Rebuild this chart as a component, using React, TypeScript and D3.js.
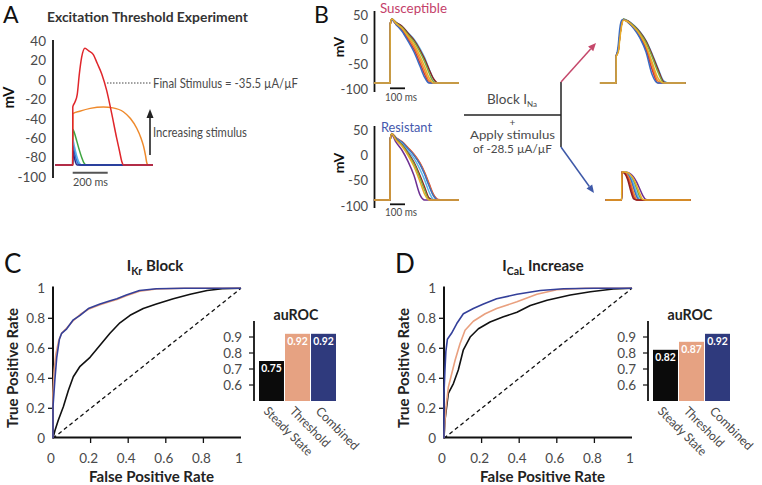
import React from 'react';
import * as d3 from 'd3';

type Pt = [number, number];

const FONT = 'Lato, "Open Sans", sans-serif';
const INK = '#4a4a4a';

// ---------- Panel A: excitation threshold traces, [ms after stimulus, mV]
const aTicks = [40, 20, 0, -20, -40, -60, -80, -100];
const aNavy: Pt[] = [[-100, -88], [0, -88], [0.5, -73], [8, -79], [16, -85], [26, -88], [459, -88]];
const aBlue: Pt[] = [[-100, -88], [0, -88], [0.5, -68], [10, -75], [20, -82], [32, -87], [42, -88], [459, -88]];
const aLight: Pt[] = [[-100, -88], [0, -88], [0.5, -62], [10, -69], [22, -78], [35, -85], [50, -88], [459, -88]];
const aGreen: Pt[] = [[-100, -88], [0, -88], [0.5, -51], [10, -55], [23, -63], [37, -72], [51, -80], [65, -86], [80, -88], [459, -88]];
const aOrange: Pt[] = [[-100, -88], [0, -88], [0.5, -35], [40, -32.5], [100, -29.5], [175, -28], [230, -29], [289, -33], [330, -40], [366, -50], [390, -60], [404, -68], [416, -78], [424, -86], [432, -88], [459, -88]];
const aRed: Pt[] = [[-100, -88], [0, -88], [0.5, -28], [13, -23], [26, -15], [38, 6], [51, 23], [70, 32.5], [90, 30], [118, 26], [140, 17], [166, 6], [194, -11], [223, -35], [251, -60], [268, -74], [280, -84], [292, -88], [459, -88]];

// ---------- Panel B: population traces (shared time grids, mV values)
const bTicks = [50, 0, -50, -100];
const leftT = [-107, 0, 1, 12, 40, 80, 120, 160, 200, 230, 260, 290, 320, 350, 460];
const susBlue = [-88, -88, 30, 40, 31, 17, -3, -25, -54, -76, -88, -88, -88, -88, -88];
const susRed = [-88, -88, 30, 41, 31, 19, 0, -20, -48, -70, -87, -88, -88, -88, -88];
const susOrange = [-88, -88, 30, 41, 32, 21, 4, -14, -40, -62, -83, -88, -88, -88, -88];
const susGreen = [-88, -88, 30, 42, 34, 25, 10, -4, -25, -44, -67, -85, -88, -88, -88];
const susLight = [-88, -88, 30, 42, 35, 27, 14, 1, -18, -36, -59, -80, -88, -88, -88];
const susDark = [-88, -88, 30, 42, 35, 27, 13, -1, -21, -39, -60, -79, -88, -88, -88];
const susGold = [-88, -88, 30, 42, 33, 23, 7, -9, -33, -54, -77, -88, -88, -88, -88];

const resPurple = [-88, -88, 30, 40, 26, 10, -12, -40, -78, -88, -88, -88, -88, -88, -88];
const resGreen = [-88, -88, 30, 42, 31, 20, 3, -17, -45, -68, -87, -88, -88, -88, -88];
const resDark = [-88, -88, 30, 42, 32, 21, 5, -14, -40, -62, -84, -88, -88, -88, -88];
const resLight = [-88, -88, 30, 42, 33, 23, 9, -6, -28, -48, -72, -87, -88, -88, -88];
const resBlue = [-88, -88, 30, 42, 34, 26, 13, 0, -18, -37, -60, -80, -88, -88, -88];
const resRed = [-88, -88, 30, 43, 35, 27, 15, 2, -15, -33, -55, -77, -87, -88, -88];
const resOrange = [-88, -88, 30, 43, 34, 26, 14, 1, -17, -35, -58, -79, -88, -88, -88];
const resGold = [-88, -88, 30, 42, 30, 18, 0, -22, -52, -76, -88, -88, -88, -88, -88];

const susBlockT = [-107, 0, 1, 8, 16, 25, 40, 50, 80, 120, 160, 200, 240, 280, 320, 360, 465];
const sbBlue = [-88, -88, -34, -26, -8, 22, 40, 41, 35, 22, 3, -25, -70, -88, -88, -88, -88];
const sbRed = [-88, -88, -34, -28, -20, 8, 36, 41, 35, 23, 5, -20, -60, -88, -88, -88, -88];
const sbOrange = [-88, -88, -34, -28, -20, 6, 35, 41, 36, 24, 8, -15, -50, -84, -88, -88, -88];
const sbGreen = [-88, -88, -34, -28, -20, 6, 36, 42, 37, 27, 13, -6, -34, -66, -88, -88, -88];
const sbLight = [-88, -88, -34, -28, -20, 8, 37, 42, 38, 29, 16, -2, -28, -58, -84, -88, -88];
const sbDark = [-88, -88, -34, -28, -20, 6, 35, 41, 38, 28, 15, -3, -30, -60, -86, -88, -88];
const sbGold = [-88, -88, -34, -30, -24, 0, 32, 40, 36, 25, 10, -12, -45, -78, -88, -88, -88];

const resBlockT = [-107, 0, 1, 20, 40, 60, 80, 100, 120, 140, 160, 180, 460];
const rbDark = [-88, -88, -33, -36, -48, -70, -86, -88, -88, -88, -88, -88, -88];
const rbRed = [-88, -88, -33, -35, -44, -62, -82, -88, -88, -88, -88, -88, -88];
const rbOrange = [-88, -88, -33, -34, -40, -54, -74, -87, -88, -88, -88, -88, -88];
const rbBlue = [-88, -88, -33, -34, -38, -48, -65, -82, -88, -88, -88, -88, -88];
const rbLight = [-88, -88, -33, -33, -36, -44, -57, -75, -87, -88, -88, -88, -88];
const rbGreen = [-88, -88, -33, -33, -35, -41, -51, -66, -82, -88, -88, -88, -88];
const rbPurple = [-88, -88, -33, -33, -34, -37, -43, -53, -66, -79, -87, -88, -88];
const rbGold = [-88, -88, -33, -33, -34, -39, -47, -60, -75, -87, -88, -88, -88];

const COL = {
  blue: '#3a6cc3', light: '#5bb8e8', green: '#7aab44', dark: '#8c1f22',
  red: '#d53a2b', orange: '#ef8a2d', gold: '#e8ac2a', purple: '#6c2f92',
};

// ---------- Panels C/D: ROC curves [FPR, TPR] and auROC bars
const rocTicks = [0, 0.2, 0.4, 0.6, 0.8, 1];
const rocTickLabels = ['0', '0.2', '0.4', '0.6', '0.8', '1'];
const barTicks = [0.6, 0.7, 0.8, 0.9];
const barCats = ['Steady State', 'Threshold', 'Combined'];
const barCatLens = [63, 51, 55];
const barColors = ['#0b0b0b', '#e6a282', '#2f3a7d'];
const cAuroc = [0.75, 0.92, 0.92];
const dAuroc = [0.82, 0.87, 0.92];

const cSteady: Pt[] = [[0, 0], [0.01, 0.05], [0.028, 0.12], [0.055, 0.21], [0.082, 0.32], [0.108, 0.41], [0.144, 0.48], [0.197, 0.54], [0.25, 0.62], [0.303, 0.7], [0.356, 0.77], [0.41, 0.82], [0.48, 0.865], [0.55, 0.895], [0.64, 0.93], [0.73, 0.96], [0.82, 0.985], [0.9, 0.997], [1, 1]];
const cThreshold: Pt[] = [[0, 0], [0, 0.3], [0.006, 0.45], [0.015, 0.56], [0.03, 0.65], [0.046, 0.7], [0.073, 0.735], [0.108, 0.785], [0.144, 0.825], [0.188, 0.86], [0.25, 0.89], [0.3, 0.91], [0.34, 0.925], [0.39, 0.95], [0.46, 0.98], [0.55, 0.995], [0.7, 1], [1, 1]];
const cCombined: Pt[] = [[0, 0], [0, 0.21], [0.01, 0.39], [0.02, 0.54], [0.034, 0.66], [0.046, 0.7], [0.073, 0.73], [0.108, 0.79], [0.144, 0.82], [0.188, 0.865], [0.25, 0.895], [0.3, 0.915], [0.34, 0.93], [0.39, 0.955], [0.46, 0.985], [0.55, 0.997], [0.7, 1], [1, 1]];

const dSteady: Pt[] = [[0, 0], [0.005, 0.12], [0.023, 0.3], [0.05, 0.365], [0.076, 0.455], [0.103, 0.59], [0.139, 0.675], [0.183, 0.73], [0.245, 0.775], [0.316, 0.81], [0.388, 0.84], [0.459, 0.885], [0.548, 0.92], [0.672, 0.955], [0.779, 0.977], [0.9, 0.995], [1, 1]];
const dThreshold: Pt[] = [[0, 0], [0.004, 0.1], [0.011, 0.21], [0.023, 0.34], [0.041, 0.43], [0.059, 0.52], [0.085, 0.63], [0.112, 0.72], [0.156, 0.78], [0.219, 0.83], [0.28, 0.865], [0.388, 0.91], [0.494, 0.96], [0.6, 0.99], [0.75, 1], [1, 1]];
const dCombined: Pt[] = [[0, 0], [0, 0.3], [0.005, 0.455], [0.01, 0.58], [0.018, 0.66], [0.04, 0.7], [0.068, 0.765], [0.103, 0.83], [0.156, 0.865], [0.21, 0.895], [0.28, 0.93], [0.388, 0.96], [0.512, 0.985], [0.636, 0.997], [0.8, 1], [1, 1]];

const zip = (ts: number[], vs: number[]): Pt[] => ts.map((t, i) => [t, vs[i]]);

function Txt({ x = 0, y = 0, size = 13, weight = 400, anchor = 'start', fill = INK, len, transform, children }: any) {
  return (
    <text x={x} y={y} transform={transform} fontSize={size} fontWeight={weight} textAnchor={anchor} fill={fill}
      textLength={len} lengthAdjust={len ? 'spacingAndGlyphs' : undefined}>{children}</text>
  );
}

function head(x1: number, y1: number, x2: number, y2: number, len = 8, half = 3.5) {
  const a = Math.atan2(y2 - y1, x2 - x1);
  const bx = x2 - len * Math.cos(a), by = y2 - len * Math.sin(a);
  const px = -Math.sin(a) * half, py = Math.cos(a) * half;
  return { pts: `${x2},${y2} ${bx + px},${by + py} ${bx - px},${by - py}`, bx, by };
}

function Arrow({ x1, y1, x2, y2, color, len = 8, half = 3.5, w = 1.5 }: any) {
  const h = head(x1, y1, x2, y2, len, half);
  return (
    <g>
      <line x1={x1} y1={y1} x2={h.bx} y2={h.by} stroke={color} strokeWidth={w} />
      <polygon points={h.pts} fill={color} />
    </g>
  );
}

function Traces({ x, y, series }: { x: any; y: any; series: [Pt[], string][] }) {
  const line = d3.line<Pt>().x(d => x(d[0])).y(d => y(d[1])).curve(d3.curveMonotoneX);
  return (
    <g fill="none" strokeWidth={1.5} strokeLinejoin="round">
      {series.map(([pts, c], i) => <path key={i} d={line(pts) || ''} stroke={c} />)}
    </g>
  );
}

function PanelA() {
  const x = d3.scaleLinear().domain([0, 200]).range([72.7, 107.7]);
  const y = d3.scaleLinear().domain([-100, 40]).range([176.7, 41]);
  return (
    <g>
      <Txt x={3} y={23} size={23} fill="#111">A</Txt>
      <Txt x={147.5} y={22} size={14} weight={700} anchor="middle" fill="#333" len={201}>Excitation Threshold Experiment</Txt>
      <line x1={53} x2={53} y1={40} y2={178} stroke="#111" strokeWidth={1.8} />
      {aTicks.map(v => <Txt key={v} x={46} y={y(v) + 5} size={13.5} anchor="end">{v}</Txt>)}
      <Txt transform="translate(14,97.5) rotate(-90)" size={15} weight={700} anchor="middle" fill="#111">mV</Txt>
      <Traces x={x} y={y} series={[[aOrange, '#ef8a2c'], [aGreen, '#3ea541'], [aLight, '#57b4ea'], [aBlue, '#2f78d6'], [aNavy, '#262a8a'], [aRed, '#e0262b']]} />
      <line x1={x(0)} x2={x(200)} y1={172.7} y2={172.7} stroke="#555" strokeWidth={2} />
      <Txt x={73} y={186} size={11} len={35}>200 ms</Txt>
      <line x1={107} x2={152} y1={83} y2={83} stroke="#444" strokeWidth={1} strokeDasharray="1.5 1.5" />
      <Txt x={153} y={87.5} size={12.5} len={145}>Final Stimulus = -35.5 µA/µF</Txt>
      <Arrow x1={150} y1={155} x2={150} y2={109} color="#222" len={9} half={3.5} w={1.6} />
      <Txt x={153} y={136.5} size={12.5} len={94}>Increasing stimulus</Txt>
    </g>
  );
}

function PanelB() {
  const yTop = d3.scaleLinear().domain([-100, 50]).range([89, 15]);
  const yBot = d3.scaleLinear().domain([-100, 50]).range([206, 130]);
  const xLeft = d3.scaleLinear().domain([0, 100]).range([390, 405]);
  const xRTop = d3.scaleLinear().domain([0, 100]).range([616, 631]);
  const xRBot = d3.scaleLinear().domain([0, 100]).range([621.7, 636.7]);
  return (
    <g>
      <Txt x={314} y={23} size={23} fill="#111">B</Txt>
      <line x1={374.5} x2={374.5} y1={11} y2={92} stroke="#111" strokeWidth={1.8} />
      <line x1={374.5} x2={374.5} y1={126} y2={208} stroke="#111" strokeWidth={1.8} />
      {bTicks.map(v => <Txt key={'t' + v} x={368} y={yTop(v) + 4.5} size={13} anchor="end">{v}</Txt>)}
      {bTicks.map(v => <Txt key={'b' + v} x={368} y={yBot(v) + 4.5} size={13} anchor="end">{v}</Txt>)}
      <Txt transform="translate(344,47) rotate(-90)" size={14} weight={700} anchor="middle" fill="#111">mV</Txt>
      <Txt transform="translate(344,163) rotate(-90)" size={14} weight={700} anchor="middle" fill="#111">mV</Txt>
      <Txt x={380} y={12.5} size={13} fill="#c4416a" len={67}>Susceptible</Txt>
      <Txt x={381} y={131.5} size={13} fill="#4558ad" len={51}>Resistant</Txt>

      <Traces x={xLeft} y={yTop} series={[
        [zip(leftT, susLight), COL.light], [zip(leftT, susDark), COL.dark], [zip(leftT, susGreen), COL.green],
        [zip(leftT, susOrange), COL.orange], [zip(leftT, susRed), COL.red], [zip(leftT, susBlue), COL.blue],
        [zip(leftT, susGold), COL.gold]]} />
      <Traces x={xLeft} y={yBot} series={[
        [zip(leftT, resRed), COL.red], [zip(leftT, resOrange), COL.orange], [zip(leftT, resBlue), COL.blue],
        [zip(leftT, resLight), COL.light], [zip(leftT, resDark), COL.dark], [zip(leftT, resGreen), COL.green],
        [zip(leftT, resPurple), COL.purple], [zip(leftT, resGold), COL.gold]]} />
      <Traces x={xRTop} y={yTop} series={[
        [zip(susBlockT, sbLight), COL.light], [zip(susBlockT, sbDark), COL.dark], [zip(susBlockT, sbGreen), COL.green],
        [zip(susBlockT, sbOrange), COL.orange], [zip(susBlockT, sbRed), COL.red], [zip(susBlockT, sbBlue), COL.blue],
        [zip(susBlockT, sbGold), COL.gold]]} />
      <Traces x={xRBot} y={yBot} series={[
        [zip(resBlockT, rbPurple), COL.purple], [zip(resBlockT, rbGreen), COL.green], [zip(resBlockT, rbLight), COL.light],
        [zip(resBlockT, rbBlue), COL.blue], [zip(resBlockT, rbOrange), COL.orange], [zip(resBlockT, rbRed), COL.red],
        [zip(resBlockT, rbDark), COL.dark], [zip(resBlockT, rbGold), COL.gold]]} />

      <line x1={xLeft(0)} x2={xLeft(100)} y1={88.3} y2={88.3} stroke="#111" strokeWidth={1.8} />
      <Txt x={385} y={100.5} size={10.5} len={32}>100 ms</Txt>
      <line x1={xLeft(0)} x2={xLeft(100)} y1={204.3} y2={204.3} stroke="#111" strokeWidth={1.8} />
      <Txt x={385} y={216} size={10.5} len={32}>100 ms</Txt>

      <text x={512} y={103.5} fontSize={13.5} textAnchor="middle" fill={INK}>
        Block I<tspan fontSize={8} dy={3}>Na</tspan>
      </text>
      <line x1={464} x2={561} y1={115} y2={115} stroke="#222" strokeWidth={1.5} />
      <line x1={561} x2={561} y1={82} y2={147} stroke="#222" strokeWidth={1.5} />
      <Txt x={512.5} y={125.5} size={10} anchor="middle">+</Txt>
      <Txt x={512.5} y={139} size={11} anchor="middle" len={85}>Apply stimulus</Txt>
      <Txt x={512.5} y={152.5} size={11} anchor="middle" len={79}>of -28.5 µA/µF</Txt>
      <Arrow x1={561} y1={82} x2={596} y2={43} color="#c5486b" />
      <Arrow x1={561} y1={147} x2={594} y2={193} color="#3e59a8" />
    </g>
  );
}

function RocPanel({ ox, bx, letter, sub, rest, titleX, steady, threshold, combined, auroc }: any) {
  const x = d3.scaleLinear().domain([0, 1]).range([ox + 53, ox + 241]);
  const y = d3.scaleLinear().domain([0, 1]).range([438.3, 288.3]);
  const line = d3.line<Pt>().x(d => x(d[0])).y(d => y(d[1]));
  const by = d3.scaleLinear().domain([0.5, 1]).range([401, 321]);
  const band = d3.scaleBand<string>().domain(barCats).range([bx + 5, bx + 82]).paddingInner(0.04);
  return (
    <g>
      <Txt x={ox + 4} y={273} size={26} fill="#111">{letter}</Txt>
      <text x={titleX} y={271} fontSize={15} fontWeight={700} textAnchor="middle" fill="#222">
        I<tspan fontSize={10.5} dy={4}>{sub}</tspan><tspan dy={-4}>{' ' + rest}</tspan>
      </text>
      {/* ROC axes */}
      <line x1={x(0)} x2={x(0)} y1={286.5} y2={438} stroke="#111" strokeWidth={2} />
      <line x1={x(0) - 1} x2={x(1)} y1={437.5} y2={437.5} stroke="#111" strokeWidth={2} />
      {rocTicks.slice(1, 5).map(v => <line key={'yt' + v} x1={x(0) - 5} x2={x(0)} y1={y(v)} y2={y(v)} stroke="#111" strokeWidth={1.3} />)}
      {rocTicks.slice(1, 5).map(v => <line key={'xt' + v} x1={x(v)} x2={x(v)} y1={437.5} y2={443} stroke="#111" strokeWidth={1.3} />)}
      {rocTicks.map((v, i) => <Txt key={'yl' + v} x={x(0) - 8} y={y(v) + 5} size={13.5} anchor="end">{rocTickLabels[i]}</Txt>)}
      {rocTicks.map((v, i) => <Txt key={'xl' + v} x={x(v) - 2} y={463} size={13.5} anchor="middle">{rocTickLabels[i]}</Txt>)}
      <Txt transform={`translate(${ox + 18},368) rotate(-90)`} size={15} weight={700} anchor="middle" fill="#222" len={120}>True Positive Rate</Txt>
      <Txt x={ox + 151.5} y={481.5} size={15} weight={700} anchor="middle" fill="#222" len={125}>False Positive Rate</Txt>
      <line x1={x(0)} y1={y(0)} x2={x(1)} y2={y(1)} stroke="#111" strokeWidth={1.3} strokeDasharray="4 3" />
      <g fill="none" strokeWidth={1.6} strokeLinejoin="round">
        <path d={line(steady) || ''} stroke="#111" />
        <path d={line(threshold) || ''} stroke="#e9a07f" />
        <path d={line(combined) || ''} stroke="#34409a" />
      </g>
      {/* auROC bars */}
      <Txt x={bx + 42} y={320} size={15} weight={700} anchor="middle" fill="#222" len={45}>auROC</Txt>
      <line x1={bx} x2={bx} y1={321} y2={401} stroke="#111" strokeWidth={1.8} />
      {barTicks.map(v => <line key={'bt' + v} x1={bx - 5} x2={bx} y1={by(v)} y2={by(v)} stroke="#111" strokeWidth={1.2} />)}
      {barTicks.map(v => <Txt key={'bl' + v} x={bx - 12} y={by(v) + 5} size={13.5} anchor="end">{v.toFixed(1)}</Txt>)}
      {barCats.map((c, i) => (
        <g key={c}>
          <rect x={band(c)} y={by(auroc[i])} width={band.bandwidth()} height={by(0.5) - by(auroc[i])} fill={barColors[i]} />
          <Txt x={(band(c) as number) + band.bandwidth() / 2} y={by(auroc[i]) + 11} size={11.5} weight={700} anchor="middle" fill="#fff" len={20.5}>{auroc[i].toFixed(2)}</Txt>
          <Txt transform={`translate(${(band(c) as number) + 4},412) rotate(45)`} size={12.5} len={barCatLens[i]}>{c}</Txt>
        </g>
      ))}
    </g>
  );
}

export default function App() {
  return (
    <svg width={762} height={485} viewBox="0 0 762 485" fontFamily={FONT}
      style={{ position: 'fixed', left: 0, top: 0, background: '#fff' }}>
      <rect width={762} height={485} fill="#fff" />
      <PanelA />
      <PanelB />
      <RocPanel ox={0} bx={254} letter="C" sub="Kr" rest="Block" titleX={155}
        steady={cSteady} threshold={cThreshold} combined={cCombined} auroc={cAuroc} />
      <RocPanel ox={391} bx={648} letter="D" sub="CaL" rest="Increase" titleX={543}
        steady={dSteady} threshold={dThreshold} combined={dCombined} auroc={dAuroc} />
    </svg>
  );
}
